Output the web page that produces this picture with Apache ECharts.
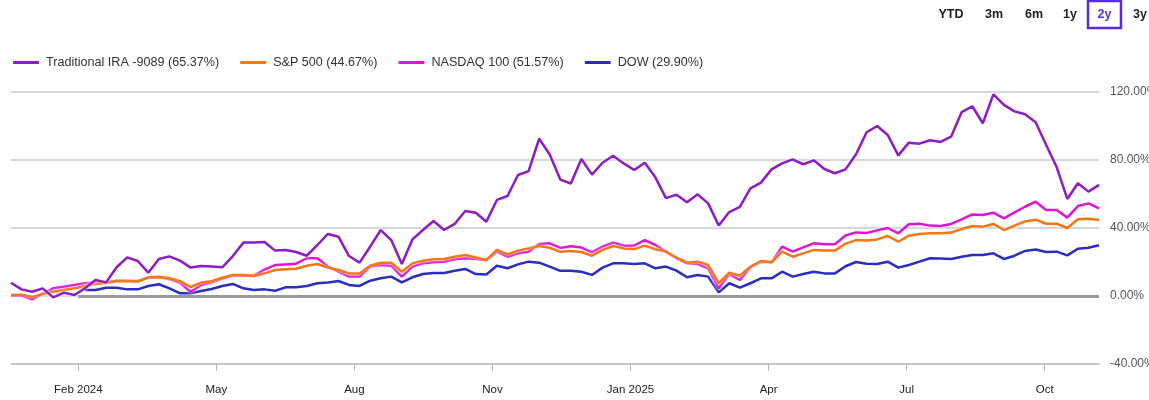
<!DOCTYPE html>
<html>
<head>
<meta charset="utf-8">
<script src="https://cdn.jsdelivr.net/npm/echarts@6/dist/echarts.min.js"></script>
<style>
html,body{margin:0;padding:0;background:#fff;}
#chart{width:1149px;height:400px;}
</style>
</head>
<body>
<div id="chart"></div>
<script>
// ---- data (weekly points, index 0..103) ----
const iraName = 'Traditional IRA -9089 (65.37%)';
const spName = 'S&P 500 (44.67%)';
const ndqName = 'NASDAQ 100 (51.57%)';
const dowName = 'DOW (29.90%)';

const iraValues = [7.8,3.9,2.5,4.5,-0.8,2.0,0.6,4.5,9.4,8.0,
16.9,22.7,20.6,13.7,21.8,23.3,20.8,16.7,17.6,17.3,
16.9,23.5,31.4,31.4,31.8,26.7,27.1,25.9,23.7,30.0,
36.5,34.9,23.5,19.6,29.0,38.8,32.9,18.8,33.3,38.8,
44.1,38.8,42.4,50.0,49.0,43.7,56.5,58.8,71.2,73.5,
92.5,83.2,68.5,66.2,80.6,71.4,78.4,82.5,78.0,74.1,
78.4,69.8,57.6,59.6,55.1,59.8,54.5,41.5,49.4,52.4,
63.3,66.7,74.5,78.0,80.4,77.5,79.8,74.7,72.2,74.5,
83.4,96.3,100.0,94.7,82.7,90.2,89.6,91.6,90.6,93.7,
108.2,111.6,101.6,118.6,112.4,108.6,106.9,102.2,88.8,75.7,
57.1,66.3,61.4,65.37];

const spValues = [0.6,0.8,-0.5,1.1,2.5,3.5,4.5,5.9,7.1,7.6,
8.8,8.7,8.5,10.9,11.3,10.4,8.7,5.3,7.9,8.7,
10.7,12.4,12.4,11.8,13.3,15.3,15.7,16.0,17.8,18.8,
16.7,15.3,13.3,13.3,17.8,19.6,19.6,14.3,19.2,20.8,
21.6,21.8,23.1,24.1,22.7,21.2,27.1,24.5,26.7,28.0,
29.4,28.4,26.0,26.4,25.9,23.7,27.1,29.4,28.0,27.6,
29.6,27.5,26.1,22.5,19.6,20.2,18.2,7.5,13.7,11.9,
17.3,20.6,19.8,26.1,23.1,25.1,27.1,26.7,26.7,30.8,
32.9,32.7,33.3,35.3,31.9,35.5,36.5,36.9,36.9,37.3,
39.4,41.2,40.8,42.4,38.8,41.4,43.9,44.9,42.5,42.5,
40.0,45.1,45.5,44.67];

const ndqValues = [0.3,0.2,-2.0,1.5,4.5,5.5,6.5,7.5,8.0,8.3,
9.0,9.0,8.8,10.8,11.0,10.0,7.8,2.5,6.5,8.0,
10.2,12.0,12.0,12.0,15.5,18.2,18.6,19.0,22.2,22.2,
17.3,14.3,11.4,11.4,17.3,18.2,17.8,11.4,17.3,19.2,
19.8,20.2,21.6,22.2,21.8,21.0,26.1,23.1,25.1,26.1,
30.6,31.0,28.3,29.2,28.5,25.7,29.0,31.4,29.6,29.6,
32.9,30.0,26.1,22.2,19.2,18.8,16.3,4.5,12.9,9.4,
16.9,20.2,19.8,29.0,26.1,28.6,31.0,30.4,30.4,35.6,
37.4,37.1,38.6,40.0,36.9,42.2,42.5,41.4,41.2,42.4,
45.1,48.0,47.6,49.0,45.7,49.2,52.5,55.5,50.6,50.6,
46.1,52.9,54.5,51.57];

const dowValues = [null,null,null,null,null,null,null,3.5,3.5,4.9,
4.9,3.9,3.9,5.9,6.9,4.5,1.6,1.6,2.9,4.1,
5.9,7.1,4.5,3.5,3.9,3.1,5.1,5.1,5.9,7.5,
8.0,8.8,6.5,5.9,9.0,10.4,11.4,8.0,11.0,12.9,
13.5,13.5,14.9,15.9,12.9,12.7,17.8,16.3,18.6,20.2,
19.6,17.3,14.8,14.9,14.3,12.4,16.7,19.2,19.2,18.8,
19.2,16.3,17.3,14.9,11.0,12.4,11.4,2.2,7.5,4.9,
7.5,10.4,10.4,14.3,11.4,12.9,14.3,13.3,13.3,17.5,
20.0,19.0,18.8,20.2,16.7,18.2,20.2,22.2,22.0,21.8,
23.1,24.1,24.1,25.1,21.8,23.7,26.5,27.3,25.9,26.1,
23.9,27.8,28.4,29.9];

// x-axis tick labels and the (fractional) week index where each sits
const tickLabels = ['Feb 2024','May','Aug','Nov','Jan 2025','Apr','Jul','Oct'];
const tickAt = [6.37,19.44,32.51,45.58,58.65,71.72,84.79,97.86];

const yTicks = [-40,0,40,80,120];
const rangeButtons = ['YTD','3m','6m','1y','2y','3y'];
const selectedRange = '2y';

// ---- build ----
const toPairs = arr => arr.map((v,i)=>[i,v]);
const lastIndex = iraValues.length - 1;

const colors = {ira:'#8c1cc4', sp:'#f47614', ndq:'#e014d2', dow:'#2b2dc0'};
const FONT = '"Liberation Sans", Arial, sans-serif';

function lineSeries(name, data, color, extra){
  return Object.assign({
    name, type:'line', data: toPairs(data), showSymbol:false, symbol:'none',
    connectNulls:false,
    lineStyle:{color, width:2.5, shadowColor:'rgba(255,255,255,1)', shadowBlur:3},
    itemStyle:{color},
    emphasis:{disabled:true},
    animation:false
  }, extra||{});
}

const chart = echarts.init(document.getElementById('chart'), null, {renderer:'canvas'});

const btnX = [951,994,1034,1070,1104.5,1140];
const graphics = rangeButtons.map((t,i)=>({
  type:'text', x:btnX[i], y:15,
  style:{text:t, x:0, y:0, align:'center', verticalAlign:'middle',
    fill: t===selectedRange ? '#5a2bd8' : '#1e1e1e',
    font:'bold 12.5px ' + FONT}
}));
const selIdx = rangeButtons.indexOf(selectedRange);
graphics.push({type:'rect', x:btnX[selIdx]-16.5, y:1, shape:{width:33, height:27},
  style:{fill:'none', stroke:'#5a2bd8', lineWidth:2.5}});

chart.setOption({
  animation:false,
  backgroundColor:'#fff',
  textStyle:{fontFamily:FONT},
  graphic: graphics,
  legend:{
    left:8, top:51, itemWidth:26, itemHeight:3, itemGap:21, icon:'roundRect',
    data:[iraName, spName, ndqName, dowName],
    textStyle:{fontSize:12.6, color:'#333', fontFamily:FONT, padding:[0,0,0,2]},
    selectedMode:false
  },
  grid:{left:11, right:50, top:92, bottom:36, containLabel:false, outerBoundsMode:'none'},
  xAxis:{
    type:'value', min:0, max:lastIndex,
    splitLine:{show:false},
    axisLine:{show:true, onZero:false, lineStyle:{color:'#c4c4c4', width:1.5}},
    axisTick:{show:true, customValues:tickAt, length:7, lineStyle:{color:'#b8b8b8', width:1}},
    axisLabel:{
      customValues:tickAt, margin:20, fontSize:11.5, color:'#222', fontFamily:FONT,
      formatter:function(v){
        let best=0, d=1e9;
        tickAt.forEach((t,i)=>{ if(Math.abs(t-v)<d){d=Math.abs(t-v); best=i;} });
        return tickLabels[best];
      }
    }
  },
  yAxis:{
    type:'value', position:'right', min:yTicks[0], max:yTicks[yTicks.length-1], interval:40,
    axisLine:{show:false}, axisTick:{show:false},
    splitLine:{show:true, lineStyle:{color:'#c8c8c8', width:1.5}},
    axisLabel:{margin:11, fontSize:12, color:'#555', fontFamily:FONT,
      formatter:v=>v.toFixed(2)+'%'}
  },
  series:[
    lineSeries(dowName, dowValues, colors.dow, {
      markLine:{silent:true, symbol:['none','none'], animation:false,
        label:{show:false}, emphasis:{disabled:true},
        lineStyle:{color:'#9a9a9a', width:3, type:'solid'},
        data:[[{coord:[tickAt[0],0]},{coord:[lastIndex,0]}]]}
    }),
    lineSeries(ndqName, ndqValues, colors.ndq),
    lineSeries(spName, spValues, colors.sp),
    lineSeries(iraName, iraValues, colors.ira)
  ]
});
</script>
</body>
</html>
